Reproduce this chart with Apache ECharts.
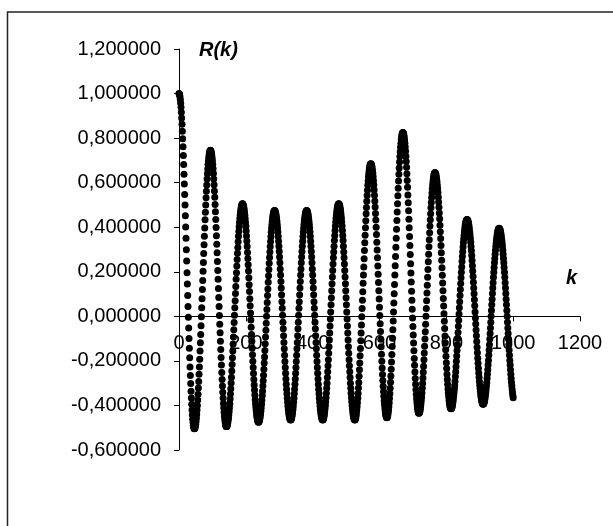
<!DOCTYPE html>
<html>
<head>
<meta charset="utf-8">
<script src="https://cdn.jsdelivr.net/npm/echarts@6/dist/echarts.min.js"></script>
<style>
  html, body { margin: 0; padding: 0; background: #fff; }
  #chart { width: 613px; height: 526px; }
</style>
</head>
<body>
<div id="chart"></div>
<script>
// ---- data ----
const kStart = 0; // first lag; one value per lag k = kStart, kStart+1, ...
const R = [
// k 0..46
1.000,0.998,0.993,0.984,0.972,0.957,0.938,0.916,0.890,0.862,0.831,0.797,0.761,0.722,0.681,0.638,0.594,0.547,0.500,0.451,0.401,0.350,0.299,0.248,0.196,0.145,0.094,0.044,-0.004,-0.052,-0.099,-0.143,-0.186,-0.227,-0.266,-0.302,-0.336,-0.367,-0.395,-0.421,-0.443,-0.462,-0.477,-0.489,-0.498,-0.503,-0.505,
// k 47..94
-0.504,-0.500,-0.493,-0.484,-0.472,-0.457,-0.441,-0.421,-0.400,-0.376,-0.350,-0.322,-0.292,-0.260,-0.227,-0.193,-0.156,-0.119,-0.081,-0.042,-0.002,0.038,0.079,0.120,
0.161,0.202,0.242,0.282,0.321,0.359,0.396,0.433,0.467,0.500,0.532,0.562,0.590,0.616,0.640,0.661,0.681,0.697,0.712,0.724,0.733,0.740,0.744,0.745,
// k 95..142
0.744,0.740,0.733,0.724,0.712,0.698,0.681,0.662,0.641,0.617,0.591,0.563,0.534,0.502,0.469,0.435,0.399,0.362,0.324,0.285,0.246,0.206,0.166,0.125,
0.084,0.044,0.004,-0.035,-0.074,-0.112,-0.149,-0.185,-0.219,-0.252,-0.284,-0.313,-0.341,-0.367,-0.391,-0.412,-0.431,-0.448,-0.462,-0.474,-0.483,-0.490,-0.494,-0.495,
// k 143..190
-0.494,-0.491,-0.485,-0.478,-0.468,-0.457,-0.443,-0.428,-0.411,-0.392,-0.371,-0.349,-0.325,-0.299,-0.273,-0.245,-0.216,-0.186,-0.156,-0.124,-0.093,-0.060,-0.028,0.005,
0.038,0.070,0.103,0.134,0.166,0.196,0.226,0.255,0.283,0.309,0.335,0.359,0.381,0.402,0.421,0.438,0.453,0.467,0.478,0.488,0.495,0.501,0.504,0.505,
// k 191..238
0.504,0.501,0.496,0.488,0.479,0.468,0.454,0.439,0.422,0.404,0.383,0.361,0.338,0.313,0.287,0.260,0.232,0.203,0.173,0.142,0.111,0.079,0.047,0.015,
-0.017,-0.049,-0.081,-0.112,-0.143,-0.173,-0.202,-0.230,-0.257,-0.283,-0.308,-0.331,-0.353,-0.374,-0.392,-0.409,-0.424,-0.438,-0.449,-0.458,-0.466,-0.471,-0.474,-0.475,
// k 239..286
-0.474,-0.471,-0.466,-0.459,-0.450,-0.439,-0.426,-0.411,-0.395,-0.377,-0.357,-0.336,-0.313,-0.289,-0.264,-0.238,-0.210,-0.182,-0.153,-0.123,-0.093,-0.062,-0.031,0.000,
0.031,0.062,0.093,0.123,0.153,0.182,0.210,0.238,0.264,0.289,0.313,0.336,0.357,0.377,0.395,0.411,0.426,0.439,0.450,0.459,0.466,0.471,0.474,0.475,
// k 287..334
0.474,0.471,0.466,0.459,0.450,0.439,0.427,0.412,0.396,0.378,0.358,0.337,0.315,0.291,0.266,0.240,0.213,0.185,0.156,0.127,0.097,0.066,0.036,0.005,
-0.026,-0.056,-0.087,-0.117,-0.146,-0.175,-0.203,-0.230,-0.256,-0.281,-0.305,-0.327,-0.348,-0.368,-0.386,-0.402,-0.417,-0.429,-0.440,-0.449,-0.456,-0.461,-0.464,-0.465,
// k 335..382
-0.464,-0.461,-0.456,-0.449,-0.440,-0.429,-0.417,-0.402,-0.386,-0.368,-0.348,-0.327,-0.305,-0.281,-0.256,-0.230,-0.203,-0.175,-0.146,-0.117,-0.087,-0.056,-0.026,0.005,
0.036,0.066,0.097,0.127,0.156,0.185,0.213,0.240,0.266,0.291,0.315,0.337,0.358,0.378,0.396,0.412,0.427,0.439,0.450,0.459,0.466,0.471,0.474,0.475,
// k 383..430
0.474,0.471,0.466,0.459,0.450,0.439,0.427,0.412,0.396,0.378,0.358,0.337,0.315,0.291,0.266,0.240,0.213,0.185,0.156,0.127,0.097,0.066,0.036,0.005,
-0.026,-0.056,-0.087,-0.117,-0.146,-0.175,-0.203,-0.230,-0.256,-0.281,-0.305,-0.327,-0.348,-0.368,-0.386,-0.402,-0.417,-0.429,-0.440,-0.449,-0.456,-0.461,-0.464,-0.465,
// k 431..478
-0.464,-0.461,-0.456,-0.448,-0.439,-0.428,-0.415,-0.400,-0.383,-0.365,-0.345,-0.323,-0.300,-0.275,-0.249,-0.222,-0.195,-0.166,-0.136,-0.106,-0.075,-0.043,-0.012,0.020,
0.052,0.083,0.115,0.146,0.176,0.206,0.235,0.263,0.289,0.315,0.340,0.363,0.385,0.405,0.423,0.440,0.455,0.468,0.479,0.488,0.496,0.501,0.504,0.505,
// k 479..526
0.504,0.501,0.496,0.488,0.479,0.468,0.455,0.440,0.423,0.405,0.385,0.363,0.340,0.315,0.289,0.263,0.235,0.206,0.176,0.146,0.115,0.083,0.052,0.020,
-0.012,-0.043,-0.075,-0.106,-0.136,-0.166,-0.195,-0.222,-0.249,-0.275,-0.300,-0.323,-0.345,-0.365,-0.383,-0.400,-0.415,-0.428,-0.439,-0.448,-0.456,-0.461,-0.464,-0.465,
// k 527..574
-0.464,-0.460,-0.454,-0.445,-0.434,-0.421,-0.406,-0.388,-0.368,-0.346,-0.322,-0.297,-0.269,-0.240,-0.209,-0.177,-0.144,-0.110,-0.075,-0.039,-0.002,0.035,0.072,0.110,
0.148,0.185,0.222,0.259,0.295,0.330,0.364,0.398,0.429,0.460,0.489,0.517,0.542,0.566,0.588,0.608,0.626,0.641,0.654,0.665,0.674,0.680,0.684,0.685,
// k 575..622
0.684,0.680,0.674,0.666,0.655,0.642,0.626,0.609,0.589,0.567,0.544,0.518,0.491,0.462,0.432,0.400,0.367,0.333,0.298,0.263,0.226,0.189,0.152,0.115,
0.078,0.041,0.004,-0.033,-0.068,-0.103,-0.137,-0.170,-0.202,-0.232,-0.261,-0.288,-0.314,-0.337,-0.359,-0.379,-0.396,-0.412,-0.425,-0.436,-0.444,-0.450,-0.454,-0.455,
// k 623..670
-0.454,-0.450,-0.443,-0.433,-0.421,-0.406,-0.389,-0.369,-0.347,-0.323,-0.296,-0.268,-0.237,-0.205,-0.171,-0.135,-0.098,-0.060,-0.021,0.019,0.060,0.101,0.143,0.185,
0.227,0.269,0.310,0.351,0.391,0.430,0.468,0.505,0.541,0.575,0.607,0.638,0.666,0.693,0.717,0.739,0.759,0.776,0.791,0.803,0.813,0.820,0.824,0.825,
// k 671..718
0.824,0.820,0.813,0.804,0.792,0.777,0.760,0.741,0.719,0.695,0.669,0.640,0.610,0.579,0.545,0.510,0.474,0.436,0.398,0.358,0.318,0.277,0.236,0.195,
0.154,0.113,0.072,0.032,-0.008,-0.046,-0.084,-0.120,-0.155,-0.189,-0.220,-0.250,-0.279,-0.305,-0.329,-0.351,-0.370,-0.387,-0.402,-0.414,-0.423,-0.430,-0.434,-0.435,
// k 719..766
-0.434,-0.430,-0.425,-0.417,-0.406,-0.394,-0.379,-0.363,-0.344,-0.323,-0.301,-0.277,-0.251,-0.224,-0.195,-0.165,-0.134,-0.102,-0.069,-0.035,0.000,0.035,0.070,0.105,
0.140,0.175,0.210,0.245,0.279,0.312,0.344,0.375,0.405,0.434,0.461,0.487,0.511,0.533,0.554,0.573,0.589,0.604,0.616,0.627,0.635,0.640,0.644,0.645,
// k 767..814
0.644,0.640,0.635,0.627,0.617,0.605,0.590,0.574,0.556,0.535,0.513,0.490,0.464,0.438,0.409,0.380,0.349,0.318,0.285,0.252,0.218,0.184,0.150,0.115,
0.080,0.046,0.012,-0.022,-0.055,-0.088,-0.119,-0.150,-0.179,-0.208,-0.234,-0.260,-0.283,-0.305,-0.326,-0.344,-0.360,-0.375,-0.387,-0.397,-0.405,-0.410,-0.414,-0.415,
// k 815..862
-0.414,-0.411,-0.407,-0.401,-0.392,-0.383,-0.371,-0.358,-0.343,-0.327,-0.310,-0.291,-0.270,-0.249,-0.226,-0.202,-0.178,-0.153,-0.127,-0.100,-0.073,-0.045,-0.018,0.010,
0.038,0.065,0.093,0.120,0.147,0.173,0.198,0.222,0.246,0.269,0.290,0.311,0.330,0.347,0.363,0.378,0.391,0.403,0.412,0.421,0.427,0.431,0.434,0.435,
// k 863..910
0.434,0.431,0.427,0.421,0.413,0.403,0.392,0.379,0.365,0.349,0.332,0.313,0.294,0.273,0.251,0.227,0.204,0.179,0.153,0.127,0.101,0.074,0.047,0.020,
-0.007,-0.034,-0.061,-0.087,-0.113,-0.139,-0.164,-0.188,-0.211,-0.233,-0.254,-0.273,-0.292,-0.309,-0.325,-0.339,-0.352,-0.363,-0.373,-0.381,-0.387,-0.391,-0.394,-0.395,
// k 911..958
-0.394,-0.392,-0.387,-0.382,-0.374,-0.365,-0.354,-0.342,-0.328,-0.313,-0.297,-0.279,-0.260,-0.240,-0.219,-0.198,-0.175,-0.151,-0.127,-0.102,-0.077,-0.052,-0.026,0.000,
0.026,0.052,0.077,0.102,0.127,0.151,0.175,0.198,0.219,0.240,0.260,0.279,0.297,0.313,0.328,0.342,0.354,0.365,0.374,0.382,0.387,0.392,0.394,0.395,
// k 959..1000
0.394,0.392,0.387,0.382,0.374,0.365,0.354,0.342,0.328,0.313,0.297,0.279,0.260,0.240,0.219,0.198,0.175,0.151,0.127,0.102,0.077,0.052,0.026,0.000,
-0.026,-0.052,-0.077,-0.102,-0.127,-0.151,-0.175,-0.198,-0.219,-0.240,-0.260,-0.279,-0.297,-0.313,-0.328,-0.342,-0.354,-0.365
];

const xTicks = [0, 200, 400, 600, 800, 1000, 1200];
const yTicks = [-0.6, -0.4, -0.2, 0, 0.2, 0.4, 0.6, 0.8, 1.0, 1.2];
const yAxisTitle = 'R(k)';
const xAxisTitle = 'k';

// ---- chart ----
const FONT = '"Liberation Sans", Arial, sans-serif';
const points = R.map((v, i) => [kStart + i, v]);

const GRID_TOP = 49, GRID_H = 401;
const yMin = yTicks[0], yMax = yTicks[yTicks.length - 1];
// move the x axis (line, ticks and labels) up to R = 0
const xAxisOffset = -GRID_H * (0 - yMin) / (yMax - yMin);

const chart = echarts.init(document.getElementById('chart'), null, { renderer: 'canvas' });
chart.setOption({
  animation: false,
  backgroundColor: '#ffffff',
  textStyle: { fontFamily: FONT },
  grid: { left: 179, top: GRID_TOP, width: 401, height: GRID_H, containLabel: false },
  xAxis: {
    type: 'value',
    position: 'bottom',
    offset: xAxisOffset,
    min: xTicks[0],
    max: xTicks[xTicks.length - 1],
    interval: xTicks[1] - xTicks[0],
    axisLine: { show: true, onZero: false, lineStyle: { color: '#000', width: 1 } },
    axisTick: { show: true, inside: false, length: 5, lineStyle: { color: '#000', width: 1 } },
    axisLabel: {
      show: true, margin: 17, color: '#000', fontSize: 20, fontFamily: FONT,
      formatter: function (v) { return String(Math.round(v)); }
    },
    splitLine: { show: false }
  },
  yAxis: {
    type: 'value',
    min: yMin,
    max: yMax,
    interval: 0.2,
    axisLine: { show: true, onZero: false, lineStyle: { color: '#000', width: 1 } },
    axisTick: { show: true, inside: false, length: 5, lineStyle: { color: '#000', width: 1 } },
    axisLabel: {
      show: true, margin: 18, color: '#000', fontSize: 20, fontFamily: FONT,
      formatter: function (v) {
        if (Math.abs(v) < 1e-9) v = 0;
        return v.toFixed(6).replace('.', ',');
      }
    },
    splitLine: { show: false }
  },
  graphic: [
    {
      type: 'rect', z: -1, silent: true,
      shape: { x: 7.5, y: 12, width: 640, height: 560 },
      style: { fill: 'none', stroke: '#222', lineWidth: 1.5 }
    },
    {
      type: 'text', left: 199, top: 40, silent: true,
      style: { text: yAxisTitle, font: 'italic bold 20px ' + FONT, fill: '#000' }
    },
    {
      type: 'text', left: 566, top: 268, silent: true,
      style: { text: xAxisTitle, font: 'italic bold 20px ' + FONT, fill: '#000' }
    }
  ],
  series: [{
    type: 'scatter',
    data: points,
    symbol: 'circle',
    symbolSize: 7,
    itemStyle: { color: '#000', opacity: 1 },
    emphasis: { disabled: true },
    z: 3
  }]
});
</script>
</body>
</html>
